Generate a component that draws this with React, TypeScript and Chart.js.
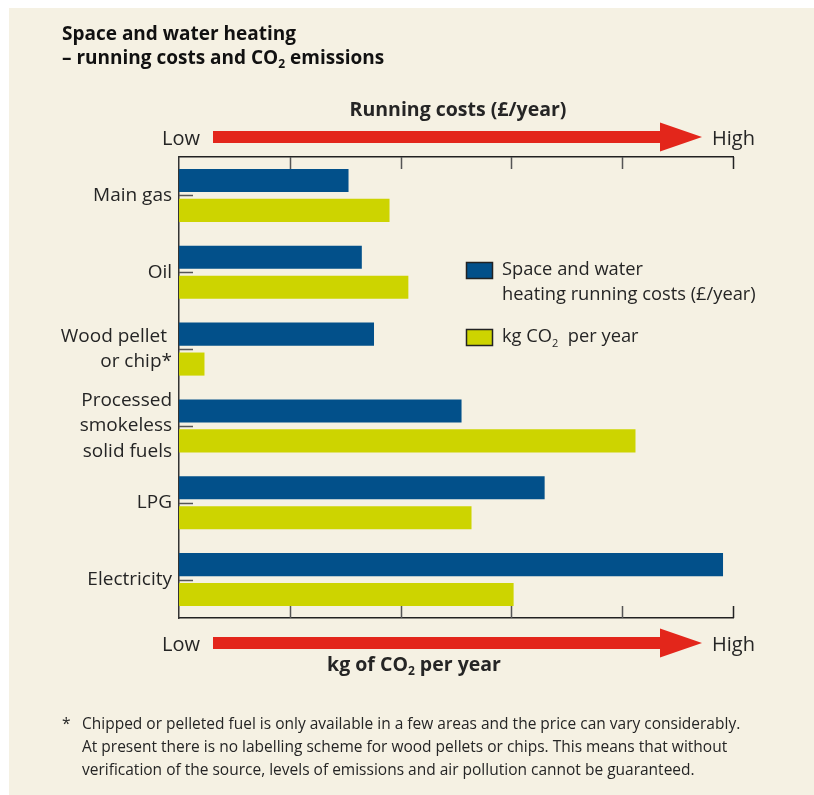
import React, { useEffect, useRef } from "react";
import { Chart, registerables } from "chart.js";

Chart.register(...registerables);

const categories: string[][] = [
  ["Main gas"],
  ["Oil"],
  ["Wood pellet ", "or chip*"],
  ["Processed", "smokeless", "solid fuels"],
  ["LPG"],
  ["Electricity"],
];
const runningCosts: number[] = [1.53, 1.65, 1.76, 2.55, 3.3, 4.91];
const co2PerYear: number[] = [1.9, 2.07, 0.23, 4.12, 2.64, 3.02];
const xTicks: number[] = [0, 1, 2, 3, 4, 5];

const BLUE = "#02508a";
const YELLOW = "#cdd400";
const RED = "#e3261b";
const TEXT = "#252525";
const FONT = "'Open Sans', 'Noto Sans', sans-serif";
const BG = "#f5f1e3";

const W = 805;
const H = 787;

function drawArrow(ctx: CanvasRenderingContext2D, x0: number, x1: number, cy: number) {
  const shaftH = 12;
  const headH = 29;
  const headL = 42;
  ctx.fillStyle = RED;
  ctx.beginPath();
  ctx.moveTo(x0, cy - shaftH / 2);
  ctx.lineTo(x1 - headL, cy - shaftH / 2);
  ctx.lineTo(x1 - headL, cy - headH / 2);
  ctx.lineTo(x1, cy);
  ctx.lineTo(x1 - headL, cy + headH / 2);
  ctx.lineTo(x1 - headL, cy + shaftH / 2);
  ctx.lineTo(x0, cy + shaftH / 2);
  ctx.closePath();
  ctx.fill();
}

function drawCO2(ctx: CanvasRenderingContext2D, parts: [string, string, string], x: number, y: number, size: number, weight: string, align: "left" | "center") {
  const [a, sub, b] = parts;
  ctx.font = `${weight} ${size}px ${FONT}`;
  const wa = ctx.measureText(a).width;
  const wb = ctx.measureText(b).width;
  ctx.font = `${weight} ${Math.round(size * 0.62)}px ${FONT}`;
  const ws = ctx.measureText(sub).width;
  const total = wa + ws + wb;
  let sx = align === "center" ? x - total / 2 : x;
  ctx.textAlign = "left";
  ctx.textBaseline = "middle";
  ctx.font = `${weight} ${size}px ${FONT}`;
  ctx.fillText(a, sx, y);
  sx += wa;
  ctx.font = `${weight} ${Math.round(size * 0.62)}px ${FONT}`;
  ctx.fillText(sub, sx, y + size * 0.35);
  sx += ws;
  ctx.font = `${weight} ${size}px ${FONT}`;
  ctx.fillText(b, sx, y);
}

const decorPlugin = {
  id: "decor",
  afterDatasetsDraw(chart: any) {
    const ctx: CanvasRenderingContext2D = chart.ctx;
    const { left, right, top, bottom } = chart.chartArea;
    const xs = chart.scales.x;
    const ys = chart.scales.y;
    ctx.save();
    // inward x ticks (top and bottom)
    xTicks.forEach((v, i) => {
      if (i === 0) return;
      const px = Math.round(xs.getPixelForValue(v)) + 0.5;
      ctx.strokeStyle = i === xTicks.length - 1 ? "#222" : "#555";
      ctx.lineWidth = 1.5;
      ctx.beginPath();
      ctx.moveTo(px, top);
      ctx.lineTo(px, top + 12);
      ctx.moveTo(px, bottom);
      ctx.lineTo(px, bottom - 12);
      ctx.stroke();
    });
    // inward category ticks
    categories.forEach((_, i) => {
      const py = Math.round(ys.getPixelForValue(i)) + 0.5;
      ctx.strokeStyle = "#555";
      ctx.lineWidth = 1.5;
      ctx.beginPath();
      ctx.moveTo(left, py);
      ctx.lineTo(left + 14, py);
      ctx.stroke();
    });

    // arrows
    const a0 = left + 34;
    const a1 = right - 31;
    drawArrow(ctx, a0, a1, top - 20);
    drawArrow(ctx, a0, a1, bottom + 25);

    ctx.fillStyle = TEXT;
    ctx.font = `400 20px ${FONT}`;
    ctx.textBaseline = "middle";
    ctx.textAlign = "right";
    ctx.fillText("Low", left + 21, top - 18);
    ctx.fillText("Low", left + 21, bottom + 27);
    ctx.textAlign = "left";
    ctx.fillText("High", right - 21, top - 18);
    ctx.fillText("High", right - 21, bottom + 27);

    // axis titles
    ctx.font = `700 19.5px ${FONT}`;
    ctx.textAlign = "center";
    ctx.fillText("Running costs (£/year)", 449, top - 47);
    drawCO2(ctx, ["kg of CO", "2", " per year"], 405, bottom + 47, 19.5, "700", "center");

    // legend
    const lx = 457;
    const boxW = 27;
    const boxH = 17;
    const ds = chart.data.datasets;
    ctx.lineWidth = 1.5;
    ctx.strokeStyle = "#222";
    ctx.fillStyle = ds[0].backgroundColor;
    ctx.fillRect(lx, 254, boxW, boxH);
    ctx.strokeRect(lx + 0.5, 254.5, boxW - 1, boxH - 1);
    ctx.fillStyle = ds[1].backgroundColor;
    ctx.fillRect(lx, 321, boxW, boxH);
    ctx.strokeRect(lx + 0.5, 321.5, boxW - 1, boxH - 1);

    ctx.fillStyle = TEXT;
    ctx.font = `400 18.3px ${FONT}`;
    ctx.textAlign = "left";
    ctx.textBaseline = "middle";
    ctx.fillText("Space and water", 493, 262);
    ctx.fillText("heating running costs (£/year)", 493, 287);
    drawCO2(ctx, ["kg CO", "2", "  per year"], 493, 329, 18.3, "400", "left");
    ctx.restore();
  },
};

export default function App() {
  const ref = useRef<HTMLCanvasElement | null>(null);

  useEffect(() => {
    if (!ref.current) return;
    const chart = new Chart(ref.current, {
      type: "bar",
      data: {
        labels: categories,
        datasets: [
          {
            label: "Space and water heating running costs (£/year)",
            data: runningCosts,
            backgroundColor: BLUE,
            categoryPercentage: 0.78,
            barPercentage: 0.77,
          },
          {
            label: "kg CO₂ per year",
            data: co2PerYear,
            backgroundColor: YELLOW,
            categoryPercentage: 0.78,
            barPercentage: 0.77,
          },
        ],
      },
      options: {
        indexAxis: "y",
        responsive: false,
        animation: false,
        devicePixelRatio: 1,
        layout: { padding: { left: 0, right: W - 724, top: 149, bottom: H - 610 } },
        plugins: { legend: { display: false }, tooltip: { enabled: false } },
        scales: {
          x: {
            type: "linear",
            position: "bottom",
            min: 0,
            max: 5,
            ticks: { display: false, stepSize: 1 },
            grid: { display: false, drawTicks: false },
            border: { display: true, color: "#222", width: 1.5 },
            afterFit: (s: any) => {
              s.height = 0;
            },
          },
          x2: {
            type: "linear",
            position: "top",
            min: 0,
            max: 5,
            ticks: { display: false, stepSize: 1 },
            grid: { display: false, drawTicks: false },
            border: { display: true, color: "#222", width: 1.5 },
            afterFit: (s: any) => {
              s.height = 0;
            },
          },
          y: {
            type: "category",
            position: "left",
            grid: { display: false, drawTicks: false },
            border: { display: true, color: "#333", width: 1.5 },
            ticks: {
              color: TEXT,
              padding: 7,
              autoSkip: false,
              font: { family: FONT, size: 19, weight: "400", lineHeight: 1.33 },
            },
            afterFit: (s: any) => {
              s.width = 170;
            },
          },
        },
      },
      plugins: [decorPlugin],
    } as any);
    return () => chart.destroy();
  }, []);

  return (
    <div
      style={{
        position: "absolute",
        left: 9,
        top: 8,
        width: W,
        height: H,
        background: BG,
        overflow: "hidden",
      }}
    >
      <canvas ref={ref} width={W} height={H} style={{ position: "absolute", left: 0, top: 0, width: W, height: H }} />
      <div
        style={{
          position: "absolute",
          left: 53,
          top: 13,
          fontFamily: FONT,
          fontWeight: 700,
          fontSize: 19,
          lineHeight: "24px",
          color: "#111",
        }}
      >
        <div>Space and water heating</div>
        <div>
          – running costs and CO<sub style={{ fontSize: 12, verticalAlign: -4, lineHeight: 0 }}>2</sub> emissions
        </div>
      </div>
      <div
        style={{
          position: "absolute",
          left: 53,
          top: 704,
          width: 760,
          fontFamily: FONT,
          fontWeight: 400,
          fontSize: 15.5,
          lineHeight: "23px",
          color: "#252525",
        }}
      >
        <div style={{ display: "flex" }}>
          <span style={{ width: 20, flex: "none" }}>*</span>
          <div>
            <div style={{ whiteSpace: "nowrap" }}>Chipped or pelleted fuel is only available in a few areas and the price can vary considerably.</div>
            <div style={{ whiteSpace: "nowrap" }}>At present there is no labelling scheme for wood pellets or chips. This means that without</div>
            <div style={{ whiteSpace: "nowrap" }}>verification of the source, levels of emissions and air pollution cannot be guaranteed.</div>
          </div>
        </div>
      </div>
    </div>
  );
}
